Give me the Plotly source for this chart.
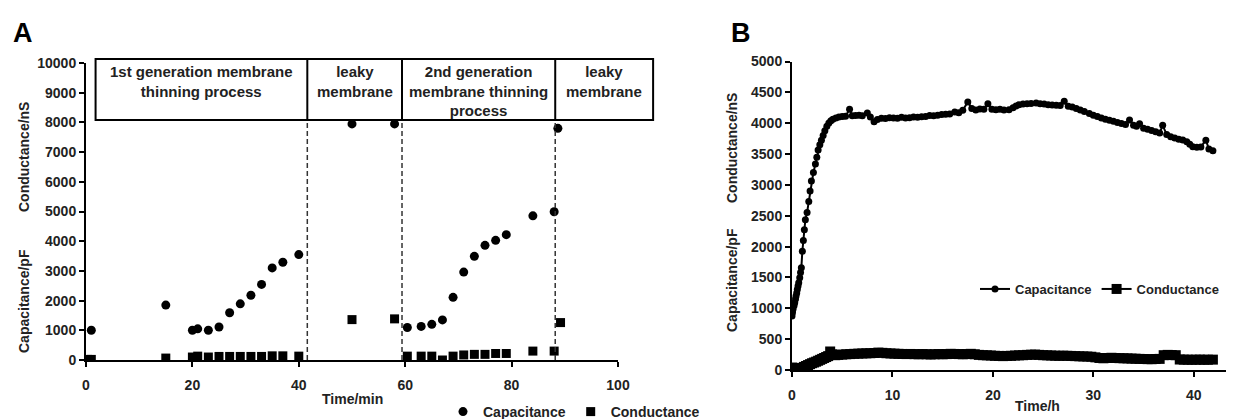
import plotly.graph_objects as go

# ---------------- Panel A data ----------------
a_cap_t = [1, 15, 20, 21, 23, 25, 27, 29, 31, 33, 35, 37, 40,
           50, 58,
           60.4, 63, 65, 67, 69, 71, 73, 75, 77, 79, 84, 88, 88.7]
a_cap_v = [1000, 1850, 1000, 1050, 1000, 1110, 1590, 1890, 2180, 2545, 3100, 3290, 3550,
           7950, 7950,
           1095, 1130, 1200, 1350, 2110, 2960, 3490, 3860, 4030, 4220, 4855, 4990, 7800]
a_con_t = [0.3, 1.0, 15, 20, 21, 23, 25, 27, 29, 31, 33, 35, 37, 40,
           50, 58,
           60.4, 63, 65, 67, 69, 71, 73, 75, 77, 79, 84, 88, 89.2]
a_con_v = [20, 20, 65, 100, 130, 100, 120, 120, 120, 120, 120, 140, 140, 130,
           1360, 1385,
           130, 130, 130, 0, 130, 170, 190, 190, 220, 220, 300, 300, 1260]

# phase boxes (x boundaries in minutes) and labels
phase_x = [1.8, 41.6, 59.4, 88.2, 106.6]
phase_y = [8080, 10135]
phase_labels = ["1st generation membrane<br>thinning process",
                "leaky<br>membrane",
                "2nd generation<br>membrane thinning<br>process",
                "leaky<br>membrane"]

# ---------------- Panel B data ----------------
b_cap_t = [0.0, 0.05, 0.1, 0.2, 0.27, 0.35, 0.4, 0.47, 0.53, 0.6, 0.67, 0.77, 0.85, 0.93,
           1.03, 1.13, 1.23, 1.33, 1.5, 1.67, 1.8, 1.93, 2.13, 2.33, 2.47, 2.6, 2.77, 2.93,
           3.1, 3.27, 3.47, 3.67, 3.87, 4.07, 4.37, 4.67, 5.0, 5.33, 5.73, 6.0, 6.33, 6.67,
           7.0, 7.5, 7.8, 8.17, 8.5, 8.9, 9.3, 9.7, 10.1, 10.5, 10.9, 11.3, 11.7, 12.1,
           12.5, 12.9, 13.3, 13.7, 14.1, 14.5, 14.9, 15.3, 15.7, 16.2, 16.6, 17.0, 17.5,
           17.9, 18.3, 18.7, 19.1, 19.5, 19.9, 20.3, 20.7, 21.1, 21.6, 22.0, 22.3, 22.6,
           23.0, 23.4, 23.8, 24.3, 24.7, 25.1, 25.5, 25.9, 26.3, 26.7, 27.1, 27.5, 27.9,
           28.3, 28.7, 29.1, 29.6, 30.0, 30.4, 30.8, 31.2, 31.6, 32.0, 32.4, 32.8, 33.2,
           33.6, 34.0, 34.3, 34.6, 35.0, 35.4, 35.8, 36.2, 36.6, 36.9, 37.3, 37.7, 38.1,
           38.5, 38.9, 39.3, 39.6, 39.9, 40.3, 40.7, 41.2, 41.5, 41.9]
b_cap_v = [876, 930, 984, 1040, 1090, 1150, 1200, 1250, 1306, 1360, 1414, 1494, 1580, 1656,
           1925, 2100, 2274, 2435, 2553, 2731, 2900, 3064, 3200, 3338, 3450, 3564, 3650, 3725,
           3800, 3876, 3950, 4005, 4040, 4064, 4085, 4102, 4110, 4113, 4225, 4120, 4125, 4129,
           4120, 4166, 4100, 4025, 4060, 4080, 4075, 4090, 4085, 4080, 4095, 4085, 4090, 4100,
           4095, 4105, 4110, 4125, 4120, 4130, 4140, 4145, 4150, 4180, 4170, 4210, 4345,
           4240, 4215, 4230, 4225, 4315, 4225, 4220, 4225, 4215, 4220, 4250, 4280, 4300,
           4310, 4315, 4320, 4328, 4315, 4310, 4300, 4295, 4290, 4285, 4355, 4275, 4263,
           4240, 4215, 4190, 4156, 4130, 4110, 4085, 4065, 4048, 4030, 4010, 3995, 3980,
           4050, 3965, 3950, 3990, 3920, 3900, 3880, 3860, 3840, 3965, 3815, 3780, 3760,
           3740, 3726, 3700, 3660, 3618, 3610, 3615, 3725, 3580, 3553]

b_con_t = [0.0, 0.1, 0.2, 0.3, 0.4, 0.5, 0.6, 0.7, 0.8, 0.9, 1.0, 1.2, 1.4, 1.6, 1.8, 2.0,
           2.2, 2.4, 2.6, 2.8, 3.0, 3.2, 3.4, 3.6, 3.8, 4.0, 4.3, 4.6, 5.0, 5.4, 5.8, 6.2,
           6.6, 7.0, 7.4, 7.8, 8.2, 8.6, 9.0, 9.4, 9.8, 10.2, 10.6, 11.0, 11.4, 11.8, 12.2,
           12.6, 13.0, 13.4, 13.8, 14.2, 14.6, 15.0, 15.4, 15.8, 16.2, 16.6, 17.0, 17.4,
           17.8, 18.2, 18.6, 19.0, 19.4, 19.8, 20.2, 20.6, 21.0, 21.4, 21.8, 22.2, 22.6,
           23.0, 23.4, 23.8, 24.2, 24.6, 25.0, 25.4, 25.8, 26.2, 26.6, 27.0, 27.4, 27.8,
           28.2, 28.6, 29.0, 29.4, 29.8, 30.2, 30.6, 31.0, 31.4, 31.8, 32.2, 32.6, 33.0,
           33.4, 33.8, 34.2, 34.6, 35.0, 35.4, 35.8, 36.2, 36.6, 37.0, 37.4, 37.8, 38.2,
           38.6, 39.0, 39.4, 39.8, 40.2, 40.6, 41.0, 41.4, 41.9]
b_con_v = [40, 25, 15, 10, 8, 10, 12, 15, 20, 25, 35, 50, 65, 80, 95, 110,
           122, 135, 150, 165, 180, 195, 210, 225, 300, 255, 240, 245, 250, 255, 258, 262,
           265, 268, 270, 272, 275, 282, 278, 272, 268, 265, 262, 260, 258, 260, 257,
           255, 258, 255, 252, 255, 258, 255, 258, 262, 260, 258, 255, 258,
           262, 255, 245, 240, 238, 235, 230, 228, 225, 228, 230, 235, 238,
           240, 245, 248, 250, 245, 240, 238, 235, 232, 230, 232, 230, 228,
           225, 222, 220, 218, 215, 205, 195, 190, 195, 198, 195, 192, 190,
           188, 185, 183, 180, 178, 176, 175, 178, 180, 240, 245, 242, 240,
           170, 168, 167, 166, 167, 168, 166, 167, 168]

# ---------------- layout geometry ----------------
# the page has an 8 px body margin, so the figure is 8 px smaller than the window
OFF = 8
WIN_W, WIN_H = 1234, 419
W, H = WIN_W - OFF, WIN_H - OFF
FONT = "Liberation Sans"


def px(rx):
    """window pixel x -> paper fraction"""
    return (rx - OFF) / W


def py(ry):
    """window pixel y (from top) -> paper fraction"""
    return (WIN_H - ry) / H


A_X = [px(86), px(618)]
A_Y = [py(360), py(63)]
B_X = [px(792), 1.0]
B_Y = [py(370), py(61.5)]
A_XR = [0, 100]
A_YR = [0, 10000]


def ax_px(v):
    return A_X[0] + (v - A_XR[0]) / (A_XR[1] - A_XR[0]) * (A_X[1] - A_X[0])


def ay_px(v):
    return A_Y[0] + (v - A_YR[0]) / (A_YR[1] - A_YR[0]) * (A_Y[1] - A_Y[0])


fig = go.Figure()

fig.add_trace(go.Scatter(x=a_cap_t, y=a_cap_v, mode="markers", name="Capacitance",
                         marker=dict(symbol="circle", size=9, color="black"),
                         xaxis="x", yaxis="y", legend="legend"))
fig.add_trace(go.Scatter(x=a_con_t, y=a_con_v, mode="markers", name="Conductance",
                         marker=dict(symbol="square", size=9, color="black"),
                         xaxis="x", yaxis="y", legend="legend"))
fig.add_trace(go.Scatter(x=b_cap_t, y=b_cap_v, mode="lines+markers", name="Capacitance",
                         line=dict(color="black", width=2),
                         marker=dict(symbol="circle", size=7, color="black"),
                         xaxis="x2", yaxis="y2", legend="legend2"))
fig.add_trace(go.Scatter(x=b_con_t, y=b_con_v, mode="lines+markers", name="Conductance",
                         line=dict(color="black", width=2),
                         marker=dict(symbol="square", size=10, color="black"),
                         xaxis="x2", yaxis="y2", legend="legend2"))

TICKFONT = dict(family=FONT, size=14, color="#222", weight=700)
axis_common = dict(showgrid=False, zeroline=False, showline=True, linecolor="black",
                   linewidth=2, ticks="outside", ticklen=5, tickwidth=2, tickcolor="black",
                   tickformat="d", tickfont=TICKFONT)

shapes = []
# phase box outline and dividers (paper coords so it can run past the axis end)
shapes.append(dict(type="rect", xref="paper", yref="paper",
                   x0=ax_px(phase_x[0]), x1=ax_px(phase_x[-1]),
                   y0=ay_px(phase_y[0]), y1=ay_px(phase_y[1]),
                   line=dict(color="black", width=2)))
for xv in phase_x[1:-1]:
    shapes.append(dict(type="line", xref="paper", yref="paper",
                       x0=ax_px(xv), x1=ax_px(xv),
                       y0=ay_px(phase_y[0]), y1=ay_px(phase_y[1]),
                       line=dict(color="black", width=2)))
    shapes.append(dict(type="line", xref="x", yref="y", x0=xv, x1=xv,
                       y0=0, y1=phase_y[0],
                       line=dict(color="#333", width=1.5, dash="5px,3px")))

annotations = []
for i, lab in enumerate(phase_labels):
    xc = (phase_x[i] + phase_x[i + 1]) / 2
    annotations.append(dict(x=ax_px(xc), y=ay_px(phase_y[1]) - 2 / H, xref="paper", yref="paper",
                            text=lab, showarrow=False, xanchor="center", yanchor="top",
                            font=dict(family=FONT, size=15, color="#222", weight=700)))

title_font = dict(family=FONT, size=14, color="#222", weight=700)


def ann(x, y, text, font, angle=0):
    return dict(x=px(x), y=py(y), xref="paper", yref="paper", text=text,
                showarrow=False, xanchor="center", yanchor="middle", textangle=angle,
                font=font)


annotations += [
    ann(23, 33, "A", dict(family=FONT, size=27, color="black", weight=700)),
    ann(741, 33, "B", dict(family=FONT, size=27, color="black", weight=700)),
    ann(24, 157, "Conductance/nS", title_font, -90),
    ann(24, 301, "Capacitance/pF", title_font, -90),
    ann(732, 148, "Conductance/nS", title_font, -90),
    ann(732, 280, "Capacitance/pF", title_font, -90),
    ann(352, 399, "Time/min", title_font),
    ann(1037, 406, "Time/h", title_font),
]

fig.update_layout(
    width=W, height=H,
    margin=dict(l=0, r=0, t=0, b=0, autoexpand=False),
    paper_bgcolor="white", plot_bgcolor="white",
    font=dict(family=FONT, size=14, color="#222", weight=700),
    xaxis=dict(domain=A_X, range=A_XR, dtick=20, anchor="y", ticklabelstandoff=6,
               **axis_common),
    yaxis=dict(domain=A_Y, range=A_YR, dtick=1000, anchor="x", **axis_common),
    xaxis2=dict(domain=B_X, range=[0, 44], dtick=10, anchor="y2", ticklabelstandoff=6,
                **axis_common),
    yaxis2=dict(domain=B_Y, range=[0, 5000], dtick=500, anchor="x2", **axis_common),
    legend=dict(orientation="h", x=px(443), y=py(412), xanchor="left", yanchor="middle",
                bgcolor="rgba(0,0,0,0)", itemwidth=30,
                font=dict(family=FONT, size=14, color="#222", weight=700)),
    legend2=dict(orientation="h", x=px(975), y=py(289), xanchor="left", yanchor="middle",
                 bgcolor="rgba(0,0,0,0)", itemwidth=30,
                 font=dict(family=FONT, size=13, color="#222", weight=700)),
    shapes=shapes,
    annotations=annotations,
    showlegend=True,
)

fig.write_html("out.html")
